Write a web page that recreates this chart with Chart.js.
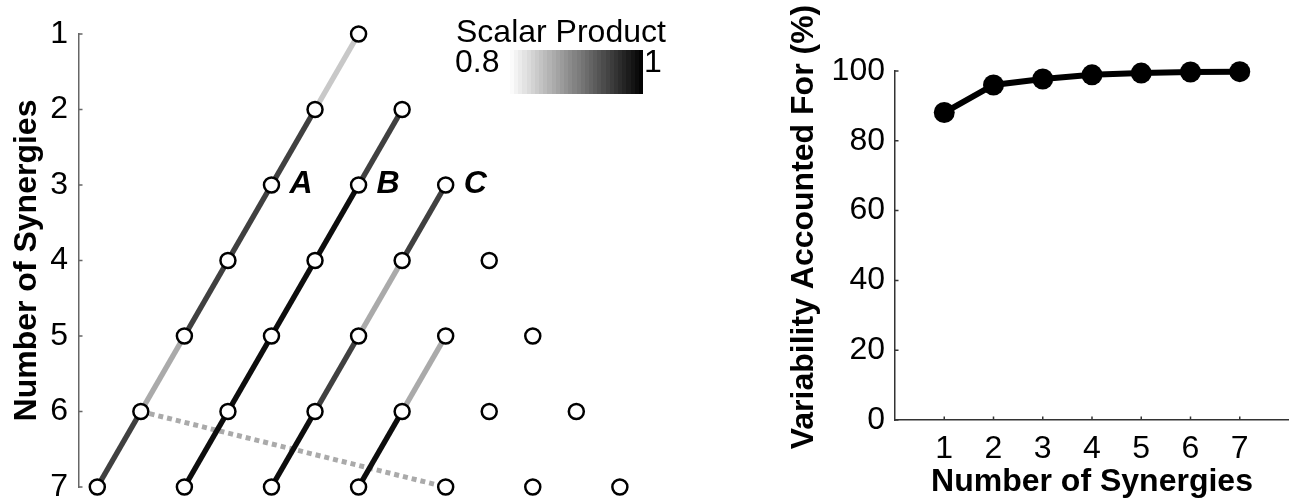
<!DOCTYPE html>
<html>
<head>
<meta charset="utf-8">
<title>Synergy tree and VAF</title>
<script src="https://cdn.jsdelivr.net/npm/chart.js@4.4.1/dist/chart.umd.min.js"></script>
<style>
  html, body { margin: 0; padding: 0; background: #fff; }
  #wrap { position: relative; width: 1289px; height: 502px; overflow: hidden; }
  #tree-box { position: absolute; left: 0; top: 0; }
  #vaf-box { position: absolute; left: 760px; top: 0; }
</style>
</head>
<body>
<div id="wrap">
  <div id="tree-box"><canvas id="chart-tree" width="700" height="502"></canvas></div>
  <div id="vaf-box"><canvas id="chart-vaf" width="529" height="502"></canvas></div>
</div>
<script>
// ------------------------------------------------------------
//  data
// ------------------------------------------------------------
const FONT = '"Liberation Sans", Arial, Helvetica, sans-serif';

// rows of the tree (number of synergies extracted)
const synergyRows = [1, 2, 3, 4, 5, 6, 7];
// horizontal slot of each synergy inside its row
const rowSlots = [
  [6],
  [5, 7],
  [4, 6, 8],
  [3, 5, 7, 9],
  [2, 4, 6, 8, 10],
  [1, 3, 5, 7, 9, 11],
  [0, 2, 4, 6, 8, 10, 12]
];
// matched synergies between consecutive rows: [row, slot, row, slot]
const linkEnds = [
  [1, 6, 2, 5], [2, 5, 3, 4], [3, 4, 4, 3], [4, 3, 5, 2], [5, 2, 6, 1], [6, 1, 7, 0],
  [2, 7, 3, 6], [3, 6, 4, 5], [4, 5, 5, 4], [5, 4, 6, 3], [6, 3, 7, 2],
  [3, 8, 4, 7], [4, 7, 5, 6], [5, 6, 6, 5], [6, 5, 7, 4],
  [5, 8, 6, 7], [6, 7, 7, 6]
];
// scalar product of each matched pair
const linkScalar = [
  0.843, 0.95, 0.95, 0.95, 0.867, 0.95,
  0.95, 0.99, 0.99, 0.99, 0.99,
  0.95, 0.867, 0.95, 0.99,
  0.867, 0.99
];
// synergy that splits into a second one further down
const splitLink = [6, 1, 7, 8];
// chain labels, placed beside row 3
const chainNames = ['A', 'B', 'C'];
const chainSlots = [4, 6, 8];
const chainRow = 3;
// colour bar limits
const scalarRange = [0.8, 1];

// variability accounted for vs number of synergies
const vafCounts = [1, 2, 3, 4, 5, 6, 7];
const vafValues = [88.1, 96.0, 97.7, 98.9, 99.4, 99.7, 99.8];
const vafTicks = [0, 20, 40, 60, 80, 100];

// ------------------------------------------------------------
//  helpers / plugins
// ------------------------------------------------------------
function shade(v) {
  const t = Math.min(1, Math.max(0, (v - scalarRange[0]) / (scalarRange[1] - scalarRange[0])));
  const g = Math.round(255 * (1 - t));
  return 'rgb(' + g + ',' + g + ',' + g + ')';
}

// matlab style ticks pointing into the plot
const inTicks = {
  id: 'inTicks',
  beforeDatasetsDraw(chart, args, opts) {
    const ctx = chart.ctx;
    ctx.save();
    ctx.strokeStyle = opts.color;
    ctx.lineWidth = opts.width;
    ctx.beginPath();
    (opts.axes || []).forEach(function(id) {
      const sc = chart.scales[id];
      sc.ticks.forEach(function(t) {
        const p = sc.getPixelForValue(t.value);
        if (sc.isHorizontal()) {
          ctx.moveTo(p, sc.top); ctx.lineTo(p, sc.top - opts.length);
        } else {
          ctx.moveTo(sc.right, p); ctx.lineTo(sc.right + opts.length, p);
        }
      });
    });
    ctx.stroke();
    ctx.restore();
  }
};

// colour bar legend + chain letters for the tree
const treeDecor = {
  id: 'treeDecor',
  afterDraw(chart) {
    const ctx = chart.ctx;
    const xs = chart.scales.x, ys = chart.scales.y;
    ctx.save();

    // chain letters
    ctx.fillStyle = '#000';
    ctx.font = 'italic bold 32px ' + FONT;
    ctx.textBaseline = 'alphabetic';
    ctx.textAlign = 'left';
    chainNames.forEach(function(n, i) {
      ctx.fillText(n, xs.getPixelForValue(chainSlots[i]) + 18, ys.getPixelForValue(chainRow) + 8);
    });

    // stepped grey colour bar
    const x0 = 510, x1 = 643, y0 = 50, y1 = 94, steps = 32;
    for (let i = 0; i < steps; i++) {
      const v = scalarRange[0] + (scalarRange[1] - scalarRange[0]) * (i + 0.5) / steps;
      const a = Math.round(x0 + (x1 - x0) * i / steps);
      const b = Math.round(x0 + (x1 - x0) * (i + 1) / steps);
      ctx.fillStyle = shade(v);
      ctx.fillRect(a, y0, b - a, y1 - y0);
    }
    ctx.fillStyle = '#000';
    ctx.font = '32px ' + FONT;
    ctx.fillText('Scalar Product', 456, 42);
    ctx.fillText(String(scalarRange[0]), 455, 72);
    ctx.fillText(String(scalarRange[1]), 644, 72);
    ctx.restore();
  }
};

// y title of the VAF panel sits a little above the axis centre
const vafTitle = {
  id: 'vafTitle',
  afterDraw(chart) {
    const ctx = chart.ctx;
    ctx.save();
    ctx.translate(44, 227);
    ctx.rotate(-Math.PI / 2);
    ctx.fillStyle = '#000';
    ctx.font = 'bold 32px ' + FONT;
    ctx.textAlign = 'center';
    ctx.textBaseline = 'middle';
    ctx.fillText('Variability Accounted For (%)', 0, 0);
    ctx.restore();
  }
};

// ------------------------------------------------------------
//  tree of synergies
// ------------------------------------------------------------
const treeNodes = [];
rowSlots.forEach(function(slots, i) {
  slots.forEach(function(s) { treeNodes.push({ x: s, y: synergyRows[i] }); });
});

const treeSets = [{
  data: treeNodes,
  showLine: false,
  pointRadius: 7.5,
  pointBorderWidth: 2.5,
  pointBackgroundColor: '#fff',
  pointBorderColor: '#000',
  order: 0,
  clip: false
}];

linkEnds.forEach(function(l, i) {
  treeSets.push({
    data: [{ x: l[1], y: l[0] }, { x: l[3], y: l[2] }],
    borderColor: shade(linkScalar[i]),
    borderWidth: 5.5,
    pointRadius: 0,
    order: 1,
    clip: false
  });
});

treeSets.push({
  data: [{ x: splitLink[1], y: splitLink[0] }, { x: splitLink[3], y: splitLink[2] }],
  borderColor: '#aaaaaa',
  borderWidth: 5,
  borderDash: [5, 4],
  pointRadius: 0,
  order: 2,
  clip: false
});

new Chart(document.getElementById('chart-tree'), {
  type: 'line',
  data: { datasets: treeSets },
  plugins: [inTicks, treeDecor],
  options: {
    responsive: false,
    animation: false,
    layout: { autoPadding: false, padding: { top: 34, bottom: 15, left: 0, right: 0 } },
    plugins: {
      legend: { display: false },
      tooltip: { enabled: false },
      inTicks: { axes: ['y'], color: '#666', width: 1.5, length: 3.5 }
    },
    scales: {
      x: { type: 'linear', display: false, min: -0.42, max: 13.84 },
      y: {
        type: 'linear', reverse: true, min: 1, max: 7,
        afterBuildTicks: function(s) { s.ticks = synergyRows.map(function(v) { return { value: v }; }); },
        ticks: { color: '#000', font: { family: FONT, size: 32 }, padding: 11 },
        grid: { display: false, drawTicks: false },
        border: { display: true, color: '#666', width: 1.5 },
        title: {
          display: true, text: 'Number of Synergies', color: '#000',
          font: { family: FONT, size: 32, weight: 'bold' }, padding: { top: 8, bottom: 0 }
        },
        afterFit: function(s) { s.width = 79; s.paddingTop = 0; s.paddingBottom = 0; }
      }
    }
  }
});

// ------------------------------------------------------------
//  variability accounted for
// ------------------------------------------------------------
new Chart(document.getElementById('chart-vaf'), {
  type: 'line',
  data: {
    datasets: [{
      data: vafCounts.map(function(c, i) { return { x: c, y: vafValues[i] }; }),
      borderColor: '#000',
      borderWidth: 6,
      pointRadius: 10.5,
      pointBorderWidth: 0,
      pointBackgroundColor: '#000',
      pointBorderColor: '#000',
      clip: false
    }]
  },
  plugins: [inTicks, vafTitle],
  options: {
    responsive: false,
    animation: false,
    layout: { autoPadding: false, padding: { top: 71, bottom: 0, left: 0, right: 0 } },
    plugins: {
      legend: { display: false },
      tooltip: { enabled: false },
      inTicks: { axes: ['x', 'y'], color: '#333', width: 1.5, length: 3.5 }
    },
    scales: {
      x: {
        type: 'linear', min: 0, max: 8,
        afterBuildTicks: function(s) { s.ticks = vafCounts.map(function(v) { return { value: v }; }); },
        ticks: { color: '#000', font: { family: FONT, size: 32 }, padding: 10, maxRotation: 0 },
        grid: { display: false, drawTicks: false },
        border: { display: true, color: '#333', width: 1.5 },
        title: {
          display: true, text: 'Number of Synergies', color: '#000',
          font: { family: FONT, size: 32, weight: 'bold' }, padding: { top: 0, bottom: 1 }
        },
        afterFit: function(s) { s.height = 82; s.paddingLeft = 0; s.paddingRight = 0; }
      },
      y: {
        type: 'linear', min: 0, max: 100,
        afterBuildTicks: function(s) { s.ticks = vafTicks.map(function(v) { return { value: v }; }); },
        ticks: { color: '#000', font: { family: FONT, size: 32 }, padding: 10 },
        grid: { display: false, drawTicks: false },
        border: { display: true, color: '#333', width: 1.5 },
        title: { display: false },
        afterFit: function(s) { s.width = 135; s.paddingTop = 0; s.paddingBottom = 0; }
      }
    }
  }
});
</script>
</body>
</html>
